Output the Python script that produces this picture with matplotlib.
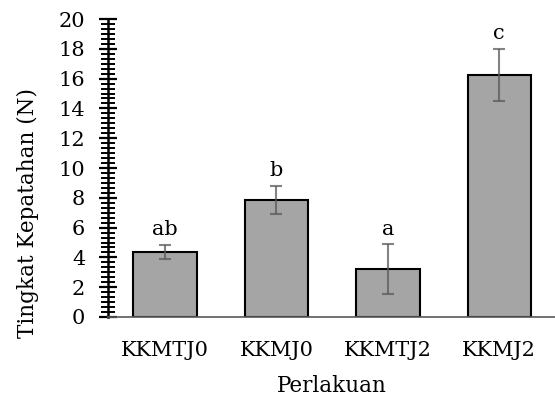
import numpy as np
import matplotlib
matplotlib.use("Agg")
from matplotlib import pyplot as plt
from matplotlib.ticker import MultipleLocator

perlakuan = ["KKMTJ0", "KKMJ0", "KKMTJ2", "KKMJ2"]
nilai = [4.34, 7.84, 3.22, 16.25]
galat = [0.48, 0.94, 1.66, 1.74]
huruf = ["ab", "b", "a", "c"]

plt.rcParams['font.family'] = ['DejaVu Serif']

fig = plt.figure(figsize=(5.55, 4.01), dpi=100)
ax = fig.add_axes([0.195, 0.2095, 0.805, 0.743])

x = np.arange(len(perlakuan))
ax.bar(x, nilai, width=0.57, color="#a5a5a5", edgecolor="black", linewidth=1.5, zorder=2)
ax.errorbar(x, nilai, yerr=galat, fmt="none", ecolor="#595959", alpha=0.75,
            elinewidth=1.5, capsize=4, capthick=1.5, zorder=3)
for i in range(len(perlakuan)):
    ax.annotate(huruf[i], (x[i], nilai[i] + galat[i]), xytext=(0, 7),
                textcoords="offset points", ha="center", va="baseline", fontsize=15)

ax.set_xlim(-0.51, 3.5)
ax.set_ylim(0, 20)
ax.yaxis.set_major_locator(MultipleLocator(2))
ax.yaxis.set_minor_locator(MultipleLocator(1 / 3))
ax.tick_params(axis="y", which="major", direction="inout", length=13, width=1.6, labelsize=15, pad=10)
ax.tick_params(axis="y", which="minor", direction="inout", length=10, width=1.4)
ax.tick_params(axis="x", length=0, labelsize=15, pad=17.4)
ax.set_xticks(x)
ax.set_xticklabels(perlakuan)

for s in ["top", "right"]:
    ax.spines[s].set_visible(False)
ax.spines["left"].set_linewidth(1.8)
ax.spines["bottom"].set_color("#595959")
ax.spines["bottom"].set_linewidth(1.2)

ax.set_xlabel("Perlakuan", fontsize=15.5)
ax.xaxis.set_label_coords(0.5, -0.195)
ax.set_ylabel("Tingkat Kepatahan (N)", fontsize=15.5)
ax.yaxis.set_label_coords(-0.154, 0.349)

fig.savefig("out.png", dpi=100)
